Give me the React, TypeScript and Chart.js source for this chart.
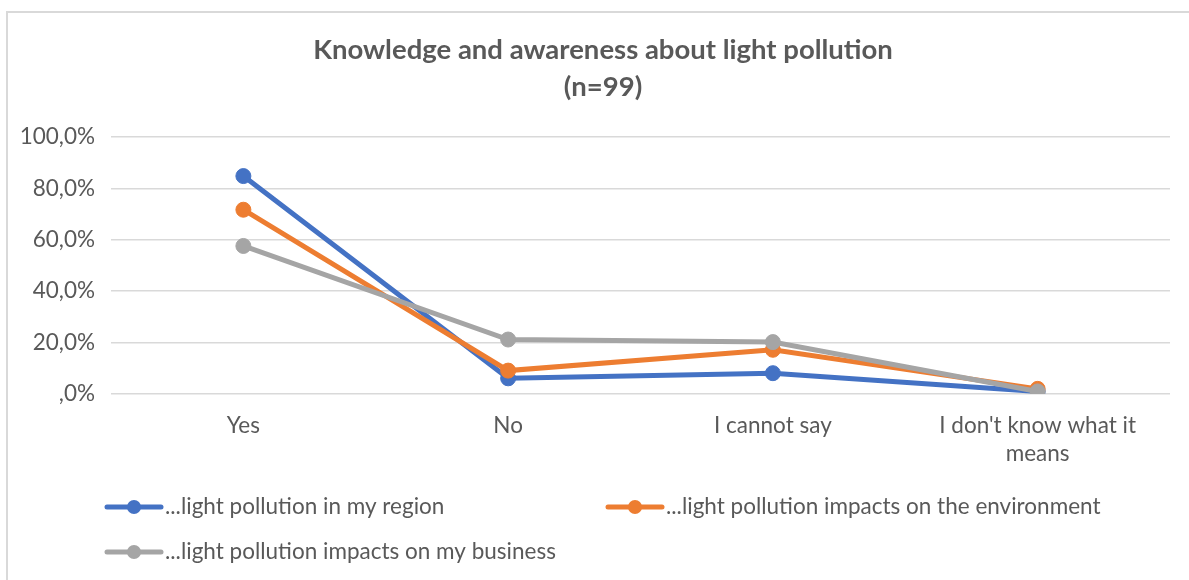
import React, { useEffect, useRef } from "react";
import { Chart, registerables } from "chart.js";

Chart.register(...registerables);

const titleLines = ["Knowledge and awareness about light pollution", "(n=99)"];
const categories = [["Yes"], ["No"], ["I cannot say"], ["I don't know what it", "means"]];
const seriesNames = [
  "...light pollution in my region",
  "...light pollution impacts on the environment",
  "...light pollution impacts on my business",
];
const regionValues = [84.8, 6.1, 8.1, 1.0];
const environmentValues = [71.7, 9.1, 17.2, 2.0];
const businessValues = [57.6, 21.2, 20.2, 1.0];
const seriesColors = ["#4472C4", "#ED7D31", "#A5A5A5"];
const yMin = 0;
const yMax = 100;
const yStep = 20;

const FONT = "Lato, 'Open Sans', sans-serif";
const TEXT = "#595959";
const LABEL_SIZE = 22.5;

const titlePlugin = {
  id: "centerTitle",
  afterDraw(chart: any, _args: any, opts: any) {
    const ctx = chart.ctx;
    ctx.save();
    ctx.fillStyle = TEXT;
    ctx.font = `bold 27.5px ${FONT}`;
    ctx.textAlign = "center";
    ctx.textBaseline = "middle";
    (opts.lines as string[]).forEach((t, i) => ctx.fillText(t, opts.x, opts.y + i * opts.lineGap));
    ctx.restore();
  },
};

const legendPlugin = {
  id: "lineLegend",
  afterDraw(chart: any, _args: any, opts: any) {
    const ctx = chart.ctx;
    const pos = opts.positions as number[][];
    chart.data.datasets.forEach((ds: any, i: number) => {
      const [x, y] = pos[i];
      ctx.save();
      ctx.strokeStyle = ds.borderColor;
      ctx.lineWidth = 5;
      ctx.lineCap = "round";
      ctx.beginPath();
      ctx.moveTo(x, y);
      ctx.lineTo(x + 54, y);
      ctx.stroke();
      ctx.fillStyle = ds.borderColor;
      ctx.beginPath();
      ctx.arc(x + 27, y, 7, 0, Math.PI * 2);
      ctx.fill();
      ctx.fillStyle = TEXT;
      ctx.font = `${LABEL_SIZE}px ${FONT}`;
      ctx.textBaseline = "middle";
      ctx.textAlign = "left";
      ctx.fillText(ds.label, x + 58, y);
      ctx.restore();
    });
  },
};

export default function App() {
  const ref = useRef<HTMLCanvasElement | null>(null);

  useEffect(() => {
    if (!ref.current) return;
    const values = [regionValues, environmentValues, businessValues];
    const chart = new Chart(ref.current, {
      type: "line",
      data: {
        labels: categories,
        datasets: values.map((v, i) => ({
          label: seriesNames[i],
          data: v,
          borderColor: seriesColors[i],
          backgroundColor: seriesColors[i],
          pointBackgroundColor: seriesColors[i],
          pointBorderColor: seriesColors[i],
          pointBorderWidth: 1,
          pointRadius: 7.5,
          borderWidth: 5,
          tension: 0,
          fill: false,
          order: 3 - i,
        })),
      },
      options: {
        animation: false,
        responsive: false,
        layout: { padding: { left: 10, right: 19, top: 137, bottom: 86 } },
        plugins: {
          legend: { display: false },
          tooltip: { enabled: false },
          title: { display: false },
          centerTitle: { lines: titleLines, x: 603, y: 50, lineGap: 37 },
          lineLegend: { positions: [[107, 507], [608, 507], [107, 552]] },
        } as any,
        scales: {
          x: {
            offset: true,
            grid: { display: false, drawTicks: false, offset: true },
            border: { display: false },
            ticks: {
              color: TEXT,
              font: { family: FONT, size: LABEL_SIZE, lineHeight: 1.28 },
              padding: 17,
              maxRotation: 0,
              autoSkip: false,
            },
            afterFit(scale: any) {
              scale.height = 100;
            },
          },
          y: {
            min: yMin,
            max: yMax,
            grid: { color: "#d9d9d9", lineWidth: 1.5, drawTicks: false },
            border: { display: false },
            ticks: {
              stepSize: yStep,
              color: TEXT,
              font: { family: FONT, size: LABEL_SIZE },
              padding: 16,
              callback: (v: any) => (Number(v) === 0 ? ",0%" : `${v},0%`),
            },
            afterFit(scale: any) {
              scale.width = 101;
            },
          },
        },
      },
      plugins: [titlePlugin, legendPlugin],
    });
    return () => chart.destroy();
  }, []);

  return (
    <div style={{ position: "absolute", left: 0, top: 0, width: 1189, height: 580, overflow: "hidden", background: "#fff" }}>
      <div
        style={{
          position: "absolute",
          left: 6,
          top: 11,
          width: 1300,
          height: 700,
          borderLeft: "2px solid #d9d9d9",
          borderTop: "2px solid #d9d9d9",
        }}
      />
      <canvas ref={ref} width={1189} height={580} style={{ position: "absolute", left: 0, top: 0 }} />
    </div>
  );
}
